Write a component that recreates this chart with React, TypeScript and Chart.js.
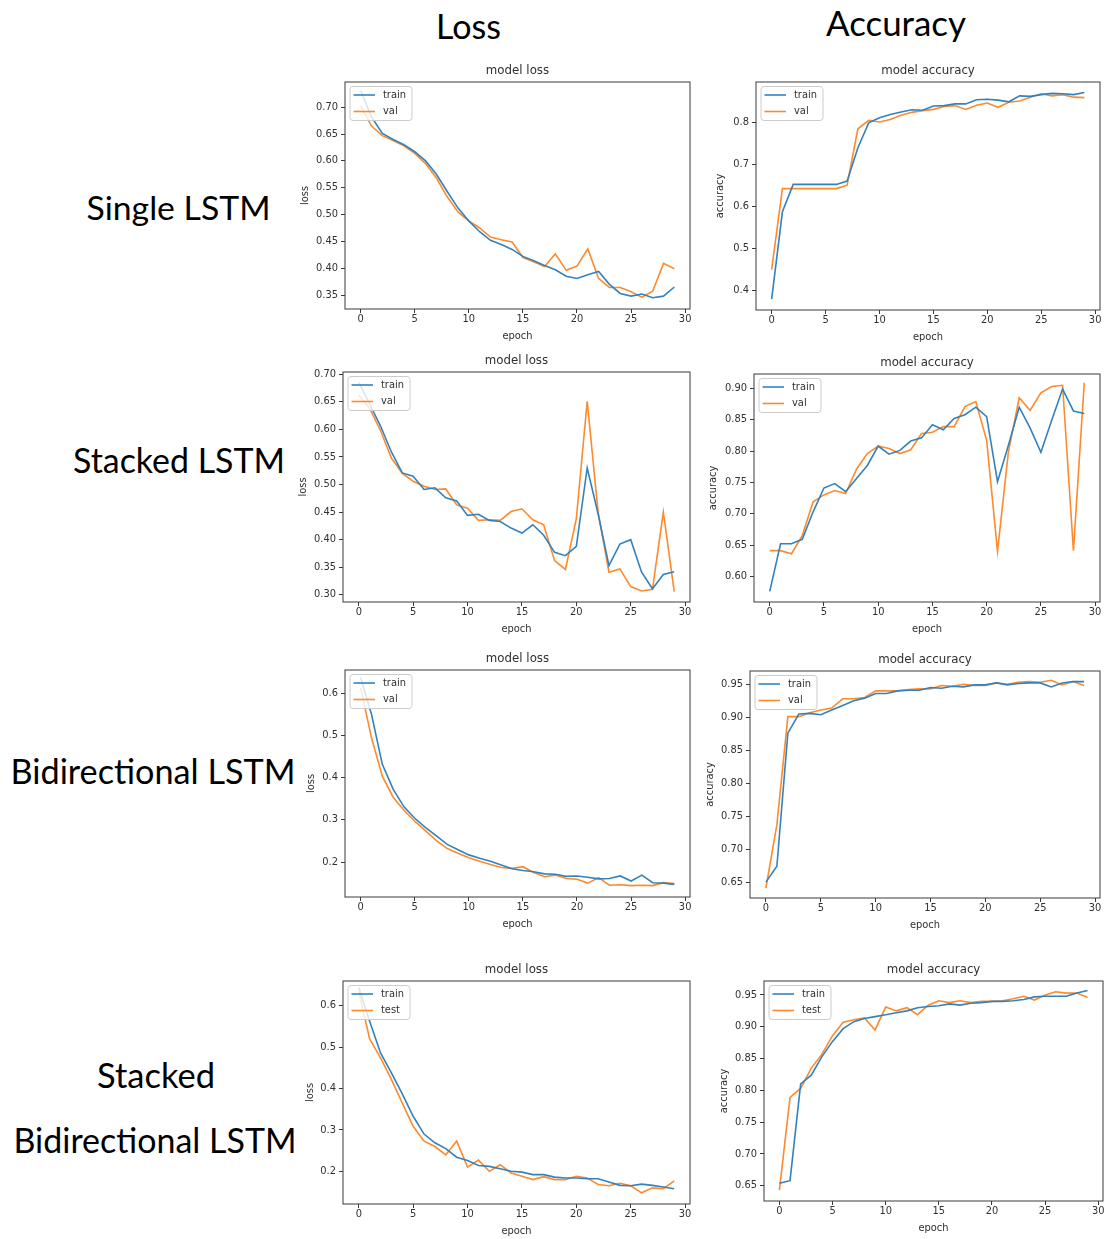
import React, { useEffect, useLayoutEffect, useRef } from 'react';
import { Chart, registerables } from 'chart.js';

Chart.register(...registerables);

// ---------- data ----------
const epochs = [0, 1, 2, 3, 4, 5, 6, 7, 8, 9, 10, 11, 12, 13, 14, 15, 16, 17, 18, 19, 20, 21, 22, 23, 24, 25, 26, 27, 28, 29];
const epochTicks = [0, 5, 10, 15, 20, 25, 30];

// Single LSTM
const singleLossTrain = [0.731, 0.682, 0.651, 0.640, 0.630, 0.617, 0.600, 0.575, 0.543, 0.512, 0.488, 0.468, 0.452, 0.444, 0.435, 0.422, 0.414, 0.405, 0.397, 0.385, 0.381, 0.388, 0.394, 0.370, 0.353, 0.348, 0.352, 0.345, 0.348, 0.365];
const singleLossVal = [0.703, 0.665, 0.647, 0.638, 0.628, 0.614, 0.595, 0.568, 0.533, 0.505, 0.488, 0.475, 0.458, 0.453, 0.449, 0.420, 0.412, 0.403, 0.427, 0.396, 0.404, 0.436, 0.381, 0.364, 0.364, 0.356, 0.346, 0.357, 0.409, 0.399];
const singleAccTrain = [0.380, 0.587, 0.652, 0.652, 0.652, 0.652, 0.652, 0.660, 0.739, 0.798, 0.810, 0.818, 0.824, 0.829, 0.828, 0.838, 0.839, 0.843, 0.843, 0.853, 0.854, 0.852, 0.848, 0.862, 0.861, 0.865, 0.868, 0.867, 0.865, 0.870];
const singleAccVal = [0.450, 0.642, 0.642, 0.642, 0.642, 0.642, 0.642, 0.650, 0.784, 0.804, 0.800, 0.806, 0.816, 0.823, 0.827, 0.830, 0.837, 0.839, 0.830, 0.840, 0.845, 0.835, 0.847, 0.850, 0.859, 0.867, 0.862, 0.865, 0.859, 0.858];

// Stacked LSTM
const stackedLossTrain = [0.685, 0.646, 0.606, 0.559, 0.521, 0.515, 0.491, 0.494, 0.476, 0.470, 0.444, 0.446, 0.435, 0.433, 0.421, 0.412, 0.427, 0.408, 0.377, 0.371, 0.388, 0.530, 0.447, 0.353, 0.392, 0.400, 0.341, 0.311, 0.337, 0.342];
const stackedLossVal = [0.662, 0.638, 0.598, 0.548, 0.520, 0.506, 0.497, 0.491, 0.492, 0.463, 0.457, 0.435, 0.436, 0.435, 0.451, 0.456, 0.436, 0.427, 0.362, 0.346, 0.438, 0.651, 0.450, 0.341, 0.347, 0.315, 0.307, 0.310, 0.450, 0.306];
const stackedAccTrain = [0.576, 0.652, 0.652, 0.659, 0.703, 0.741, 0.748, 0.735, 0.756, 0.777, 0.808, 0.795, 0.801, 0.816, 0.821, 0.842, 0.834, 0.852, 0.858, 0.870, 0.855, 0.751, 0.809, 0.870, 0.837, 0.798, 0.849, 0.899, 0.864, 0.860];
const stackedAccVal = [0.641, 0.641, 0.636, 0.665, 0.719, 0.730, 0.737, 0.732, 0.771, 0.796, 0.808, 0.804, 0.796, 0.802, 0.828, 0.830, 0.839, 0.839, 0.871, 0.879, 0.817, 0.640, 0.798, 0.885, 0.865, 0.893, 0.903, 0.905, 0.641, 0.909];

// Bidirectional LSTM
const bidirLossTrain = [0.638, 0.551, 0.432, 0.373, 0.331, 0.304, 0.282, 0.262, 0.242, 0.229, 0.217, 0.209, 0.202, 0.193, 0.184, 0.180, 0.177, 0.172, 0.171, 0.166, 0.167, 0.164, 0.160, 0.161, 0.167, 0.155, 0.169, 0.151, 0.150, 0.147];
const bidirLossVal = [0.614, 0.495, 0.404, 0.354, 0.323, 0.297, 0.274, 0.251, 0.232, 0.221, 0.210, 0.202, 0.194, 0.187, 0.185, 0.189, 0.175, 0.165, 0.169, 0.161, 0.159, 0.150, 0.163, 0.145, 0.146, 0.144, 0.145, 0.144, 0.151, 0.149];
const bidirAccTrain = [0.651, 0.675, 0.876, 0.905, 0.906, 0.904, 0.911, 0.918, 0.925, 0.929, 0.936, 0.936, 0.940, 0.941, 0.941, 0.945, 0.944, 0.947, 0.946, 0.949, 0.949, 0.952, 0.949, 0.951, 0.952, 0.952, 0.946, 0.952, 0.954, 0.954];
const bidirAccVal = [0.642, 0.738, 0.901, 0.901, 0.907, 0.911, 0.914, 0.928, 0.928, 0.930, 0.940, 0.940, 0.940, 0.942, 0.943, 0.943, 0.948, 0.947, 0.950, 0.948, 0.948, 0.952, 0.950, 0.953, 0.954, 0.953, 0.956, 0.949, 0.954, 0.948];

// Stacked Bidirectional LSTM
const sbLossTrain = [0.644, 0.563, 0.486, 0.438, 0.387, 0.333, 0.290, 0.269, 0.255, 0.234, 0.226, 0.214, 0.212, 0.206, 0.200, 0.198, 0.192, 0.192, 0.186, 0.184, 0.184, 0.182, 0.182, 0.174, 0.166, 0.165, 0.169, 0.166, 0.162, 0.158];
const sbLossTest = [0.635, 0.520, 0.474, 0.422, 0.365, 0.309, 0.273, 0.260, 0.240, 0.273, 0.210, 0.227, 0.200, 0.216, 0.196, 0.188, 0.180, 0.187, 0.180, 0.180, 0.188, 0.184, 0.168, 0.165, 0.171, 0.165, 0.148, 0.160, 0.158, 0.177];
const sbAccTrain = [0.654, 0.658, 0.810, 0.824, 0.853, 0.877, 0.897, 0.908, 0.913, 0.916, 0.919, 0.922, 0.925, 0.930, 0.932, 0.933, 0.936, 0.934, 0.937, 0.938, 0.940, 0.940, 0.941, 0.943, 0.947, 0.948, 0.948, 0.948, 0.953, 0.957];
const sbAccTest = [0.643, 0.789, 0.803, 0.835, 0.857, 0.886, 0.907, 0.911, 0.914, 0.895, 0.931, 0.925, 0.930, 0.919, 0.934, 0.941, 0.938, 0.941, 0.938, 0.940, 0.940, 0.941, 0.944, 0.948, 0.942, 0.950, 0.955, 0.953, 0.953, 0.946];

// tick labels
const lossTicksSingle = [0.35, 0.40, 0.45, 0.50, 0.55, 0.60, 0.65, 0.70];
const accTicksSingle = [0.4, 0.5, 0.6, 0.7, 0.8];
const lossTicksStacked = [0.30, 0.35, 0.40, 0.45, 0.50, 0.55, 0.60, 0.65, 0.70];
const accTicksStacked = [0.60, 0.65, 0.70, 0.75, 0.80, 0.85, 0.90];
const lossTicksBidir = [0.2, 0.3, 0.4, 0.5, 0.6];
const accTicksBidir = [0.65, 0.70, 0.75, 0.80, 0.85, 0.90, 0.95];
const lossTicksSB = [0.2, 0.3, 0.4, 0.5, 0.6];
const accTicksSB = [0.65, 0.70, 0.75, 0.80, 0.85, 0.90, 0.95];

const trainValNames = ['train', 'val'];
const trainTestNames = ['train', 'test'];

const columnHeaders = ['Loss', 'Accuracy'];
const rowLabels = ['Single LSTM', 'Stacked LSTM', 'Bidirectional LSTM', 'Stacked', 'Bidirectional LSTM'];

// ---------- styling ----------
const BLUE = '#3382bd';
const ORANGE = '#fd8a2c';
const TEXT = '#303030';
const AXIS = '#3a3a3a';
const MPL_FONT = "'DejaVu Sans', sans-serif";
const TICK_SIZE = 9.9;
const TITLE_SIZE = 11.8;
const LINE_W = 1.6;

type PanelCfg = {
  box: [number, number, number, number];
  yW: number;
  yMin: number;
  yMax: number;
  ticks: number[];
  dec: number;
  title: string;
  yLabel: string;
  names: string[];
  a: number[];
  b: number[];
};

const panels: PanelCfg[] = [
  { box: [345, 82, 690, 309], yW: 50, yMin: 0.324, yMax: 0.747, ticks: lossTicksSingle, dec: 2, title: 'model loss', yLabel: 'loss', names: trainValNames, a: singleLossTrain, b: singleLossVal },
  { box: [756, 82, 1100, 310], yW: 46, yMin: 0.354, yMax: 0.895, ticks: accTicksSingle, dec: 1, title: 'model accuracy', yLabel: 'accuracy', names: trainValNames, a: singleAccTrain, b: singleAccVal },
  { box: [343, 372, 690, 602], yW: 50, yMin: 0.287, yMax: 0.704, ticks: lossTicksStacked, dec: 2, title: 'model loss', yLabel: 'loss', names: trainValNames, a: stackedLossTrain, b: stackedLossVal },
  { box: [754, 374, 1100, 602], yW: 51, yMin: 0.559, yMax: 0.923, ticks: accTicksStacked, dec: 2, title: 'model accuracy', yLabel: 'accuracy', names: trainValNames, a: stackedAccTrain, b: stackedAccVal },
  { box: [345, 670, 690, 897], yW: 44, yMin: 0.117, yMax: 0.656, ticks: lossTicksBidir, dec: 1, title: 'model loss', yLabel: 'loss', names: trainValNames, a: bidirLossTrain, b: bidirLossVal },
  { box: [750, 671, 1100, 898], yW: 50, yMin: 0.627, yMax: 0.970, ticks: accTicksBidir, dec: 2, title: 'model accuracy', yLabel: 'accuracy', names: trainValNames, a: bidirAccTrain, b: bidirAccVal },
  { box: [343, 981, 690, 1204], yW: 43, yMin: 0.121, yMax: 0.660, ticks: lossTicksSB, dec: 1, title: 'model loss', yLabel: 'loss', names: trainTestNames, a: sbLossTrain, b: sbLossTest },
  { box: [764, 981, 1103, 1201], yW: 50, yMin: 0.626, yMax: 0.972, ticks: accTicksSB, dec: 2, title: 'model accuracy', yLabel: 'accuracy', names: trainTestNames, a: sbAccTrain, b: sbAccTest },
];

const TOP_SPACE = 30;
const X_AXIS_H = 36;
const RIGHT_PAD = 12;
const BOTTOM_PAD = 2;
const TITLE_PB = 4;

const framePlugin = {
  id: 'mplFrame',
  afterDatasetsDraw(chart: any) {
    const { ctx, chartArea } = chart;
    const { left, top, right, bottom } = chartArea;
    ctx.save();
    ctx.strokeStyle = AXIS;
    ctx.lineWidth = 1;
    ctx.strokeRect(left, top, right - left, bottom - top);
    ctx.restore();
  },
};

const mplLegendPlugin = {
  id: 'mplLegend',
  afterDraw(chart: any) {
    const { ctx, chartArea } = chart;
    const datasets = chart.data.datasets;
    const x = chartArea.left + 5;
    const y = chartArea.top + 4.5;
    ctx.save();
    ctx.font = `${TICK_SIZE}px ${MPL_FONT}`;
    let maxW = 0;
    datasets.forEach((d: any) => { maxW = Math.max(maxW, ctx.measureText(d.label).width); });
    const w = 33 + maxW + 6;
    const h = 34;
    ctx.beginPath();
    if (ctx.roundRect) ctx.roundRect(x, y, w, h, 3); else ctx.rect(x, y, w, h);
    ctx.fillStyle = 'rgba(255,255,255,0.8)';
    ctx.fill();
    ctx.strokeStyle = '#cccccc';
    ctx.lineWidth = 1;
    ctx.stroke();
    datasets.forEach((d: any, i: number) => {
      const ly = y + 8.5 + i * 16.5;
      ctx.beginPath();
      ctx.moveTo(x + 3.5, ly);
      ctx.lineTo(x + 25, ly);
      ctx.strokeStyle = d.borderColor;
      ctx.lineWidth = LINE_W;
      ctx.stroke();
      ctx.fillStyle = TEXT;
      ctx.textBaseline = 'middle';
      ctx.textAlign = 'left';
      ctx.fillText(d.label, x + 33, ly);
    });
    ctx.restore();
  },
};

function buildConfig(p: PanelCfg): any {
  const font = { family: MPL_FONT, size: TICK_SIZE, weight: 'normal' as const };
  const toPts = (vals: number[]) => epochs.map((e, i) => ({ x: e, y: vals[i] }));
  const titleH = TITLE_SIZE * 1.2 + TITLE_PB;
  return {
    type: 'line',
    data: {
      datasets: [
        { label: p.names[0], data: toPts(p.a), borderColor: BLUE, backgroundColor: BLUE, borderWidth: LINE_W, pointRadius: 0, tension: 0, fill: false },
        { label: p.names[1], data: toPts(p.b), borderColor: ORANGE, backgroundColor: ORANGE, borderWidth: LINE_W, pointRadius: 0, tension: 0, fill: false },
      ],
    },
    options: {
      animation: false,
      responsive: false,
      devicePixelRatio: 1,
      layout: { padding: { left: 0, right: RIGHT_PAD, top: TOP_SPACE - titleH, bottom: BOTTOM_PAD } },
      plugins: {
        legend: { display: false },
        tooltip: { enabled: false },
        title: {
          display: true,
          text: p.title,
          fullSize: false,
          color: TEXT,
          font: { family: MPL_FONT, size: TITLE_SIZE, weight: 'normal' },
          padding: { top: 0, bottom: TITLE_PB },
        },
      },
      scales: {
        x: {
          type: 'linear',
          min: -1.45,
          max: 30.45,
          afterBuildTicks: (s: any) => { s.ticks = epochTicks.map((v) => ({ value: v })); },
          afterFit: (s: any) => { s.height = X_AXIS_H; },
          ticks: { font, color: TEXT, padding: 0, maxRotation: 0, autoSkip: false, callback: (v: any) => String(v) },
          grid: { display: true, drawOnChartArea: false, drawTicks: true, tickLength: 4, color: AXIS, lineWidth: 1 },
          border: { display: false },
          title: { display: true, text: 'epoch', color: TEXT, font, padding: { top: 0, bottom: 3 } },
        },
        y: {
          type: 'linear',
          min: p.yMin,
          max: p.yMax,
          afterBuildTicks: (s: any) => { s.ticks = p.ticks.map((v) => ({ value: v })); },
          afterFit: (s: any) => { s.width = p.yW; },
          ticks: { font, color: TEXT, padding: 3, autoSkip: false, callback: (v: any) => Number(v).toFixed(p.dec) },
          grid: { display: true, drawOnChartArea: false, drawTicks: true, tickLength: 4, color: AXIS, lineWidth: 1 },
          border: { display: false },
          title: { display: true, text: p.yLabel, color: TEXT, font, padding: { top: 4, bottom: 4 } },
        },
      },
    },
    plugins: [framePlugin, mplLegendPlugin],
  };
}

function Panel({ p }: { p: PanelCfg }) {
  const ref = useRef<HTMLCanvasElement>(null);
  const left = p.box[0] - p.yW;
  const top = p.box[1] - TOP_SPACE;
  const w = p.box[2] - left + RIGHT_PAD;
  const h = p.box[3] - top + X_AXIS_H + BOTTOM_PAD;
  useEffect(() => {
    const chart = new Chart(ref.current as HTMLCanvasElement, buildConfig(p));
    return () => chart.destroy();
  }, [p]);
  return <canvas ref={ref} width={w} height={h} style={{ position: 'absolute', left, top, width: w, height: h }} />;
}

const LABEL_FONT = "Lato, 'Open Sans', sans-serif";
const LABEL_BASE = 34;

function FitLabel({ text, cx, cy, targetW }: { text: string; cx: number; cy: number; targetW: number }) {
  const ref = useRef<HTMLDivElement>(null);
  useLayoutEffect(() => {
    const el = ref.current;
    if (!el) return;
    el.style.fontSize = LABEL_BASE + 'px';
    const natural = el.getBoundingClientRect().width;
    if (natural > 0) el.style.fontSize = (LABEL_BASE * targetW) / natural + 'px';
  }, [text, targetW]);
  return (
    <div
      ref={ref}
      style={{
        position: 'absolute',
        left: cx,
        top: cy,
        transform: 'translate(-50%, -50%)',
        whiteSpace: 'nowrap',
        lineHeight: 1,
        fontFamily: LABEL_FONT,
        fontSize: LABEL_BASE,
        color: '#000',
      }}
    >
      {text}
    </div>
  );
}

const headerPos = [
  { cx: 468.5, cy: 26, w: 65 },
  { cx: 896, cy: 23, w: 140 },
];
const rowPos = [
  { cx: 178.5, cy: 208, w: 184 },
  { cx: 179, cy: 461, w: 212 },
  { cx: 153, cy: 771, w: 285 },
  { cx: 156, cy: 1075, w: 118 },
  { cx: 155, cy: 1140, w: 283 },
];

export default function App() {
  return (
    <div style={{ position: 'absolute', left: 0, top: 0, width: 1107, height: 1239, background: '#fff', overflow: 'hidden' }}>
      {columnHeaders.map((t, i) => (
        <FitLabel key={'h' + i} text={t} cx={headerPos[i].cx} cy={headerPos[i].cy} targetW={headerPos[i].w} />
      ))}
      {rowLabels.map((t, i) => (
        <FitLabel key={'r' + i} text={t} cx={rowPos[i].cx} cy={rowPos[i].cy} targetW={rowPos[i].w} />
      ))}
      {panels.map((p, i) => (
        <Panel key={i} p={p} />
      ))}
    </div>
  );
}
